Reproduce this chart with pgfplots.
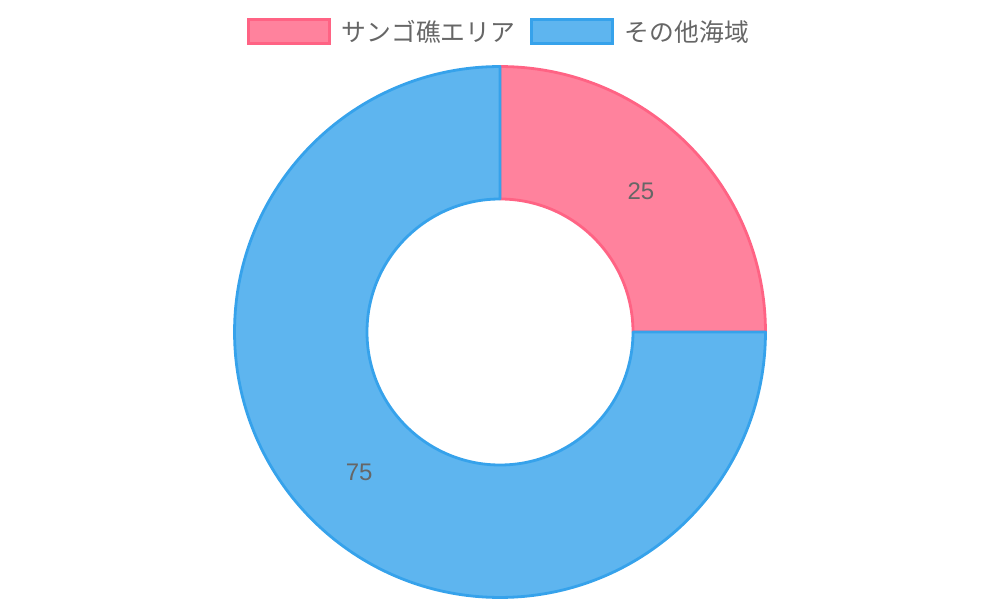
\documentclass[border=0pt]{standalone}
\usepackage{fontspec}
\setmainfont{Liberation Sans}
\newfontfamily\cjk{Noto Sans CJK JP}
\usepackage{pgfplots}
\pgfplotsset{compat=1.18}
\usepackage{pgfplotstable}
\usetikzlibrary{calc}

\definecolor{pinkfill}{HTML}{FF829D}
\definecolor{pinkline}{HTML}{FF6384}
\definecolor{bluefill}{HTML}{5EB5EF}
\definecolor{blueline}{HTML}{36A2EB}
\definecolor{txt}{HTML}{666666}

\pgfplotstableread{
value
25
75
}\shares

\begin{document}
\begin{tikzpicture}
\pgfplotstablegetelem{0}{value}\of\shares \let\va\pgfplotsretval
\pgfplotstablegetelem{1}{value}\of\shares \let\vb\pgfplotsretval
\pgfmathsetmacro\aStart{90}
\pgfmathsetmacro\aMid{90-\va/(\va+\vb)*360}
\pgfmathsetmacro\aEnd{\aMid-\vb/(\va+\vb)*360}
\pgfmathsetmacro\labA{(\aStart+\aMid)/2}
\pgfmathsetmacro\labB{(\aMid+\aEnd)/2}
\def\Ro{199.1pt}
\def\Ri{99.75pt}
\def\Rw{99.35pt}
\def\Rm{149.4pt}
\begin{axis}[
  hide axis, scale only axis,
  width=750pt, height=450pt,
  xmin=0, xmax=1000, ymin=0, ymax=600,
  clip=false,
  legend columns=2,
  legend style={draw=none, fill=none, at={(axis cs:498.5,568.3)}, anchor=center,
    font=\cjk\fontsize{18.6pt}{20pt}\selectfont, text=txt,
    /tikz/every odd column/.append style={column sep=7pt},
    /tikz/every even column/.append style={column sep=10pt},
    nodes={inner sep=1pt}},
  legend image code/.code={\draw[#1, line width=2.25pt] (0pt,-9.2pt) rectangle (61pt,9.2pt);},
]
\addlegendimage{fill=pinkfill, draw=pinkline}
\addlegendentry{サンゴ礁エリア}
\addlegendimage{fill=bluefill, draw=blueline}
\addlegendentry{その他海域}

\filldraw[fill=pinkfill, draw=pinkline, line width=2.1pt, line join=round]
  (axis cs:500,268) ++(\aStart:\Ro) arc[start angle=\aStart, end angle=\aMid, radius=\Ro]
  -- ++(\aMid:-\Rw) arc[start angle=\aMid, end angle=\aStart, radius=\Ri] -- cycle;
\filldraw[fill=bluefill, draw=blueline, line width=2.1pt, line join=round]
  (axis cs:500,268) ++(\aMid:\Ro) arc[start angle=\aMid, end angle=\aEnd, radius=\Ro]
  -- ++(\aEnd:-\Rw) arc[start angle=\aEnd, end angle=\aMid, radius=\Ri] -- cycle;

\node[text=txt, font=\fontsize{18pt}{20pt}\selectfont] at ($(axis cs:500,268)+(\labA:\Rm)$) {\va};
\node[text=txt, font=\fontsize{18pt}{20pt}\selectfont] at ($(axis cs:500,268)+(\labB:\Rm)$) {\vb};
\path (rel axis cs:0,0) rectangle (rel axis cs:1,1);
\end{axis}
\end{tikzpicture}
\end{document}
